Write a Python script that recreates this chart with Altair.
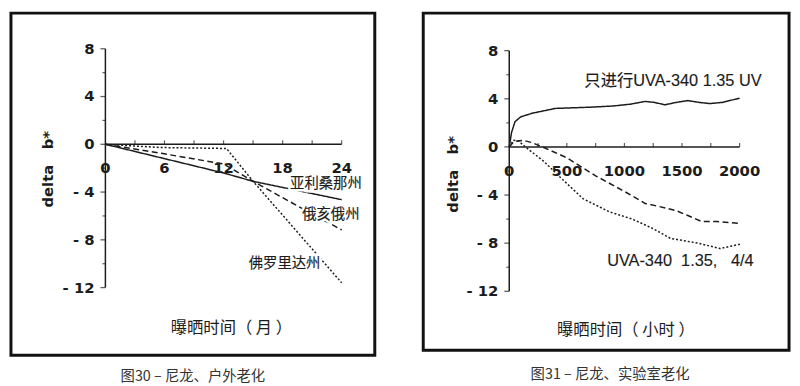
import altair as alt
import pandas as pd

# ---------------- data: left panel (outdoor, months) ----------------
az_month = [0, 6, 12, 15, 24]
az_val = [0, -1.2, -2.4, -3.1, -4.64]
oh_month = [0, 6, 12, 15, 19.6, 24]
oh_val = [0, -0.8, -1.65, -3.1, -5.2, -7.17]
fl_month = [0, 5.6, 12.3, 15, 24]
fl_val = [0, -0.27, -0.35, -3.1, -11.6]

# ---------------- data: right panel (lab, hours) ----------------
uv_hour = [0, 20, 50, 100, 200, 300, 400, 550, 700, 900, 1050, 1180, 1260,
           1350, 1450, 1550, 1650, 1740, 1850, 2000]
uv_val = [0, 1.2, 2.1, 2.5, 2.8, 3.0, 3.2, 3.25, 3.3, 3.4, 3.55, 3.78, 3.7,
          3.5, 3.7, 3.85, 3.7, 3.6, 3.7, 4.05]
c44_hour = [0, 40, 120, 200, 300, 500, 750, 1000, 1180, 1300, 1450, 1550,
            1670, 1800, 2000]
c44_val = [0, 0.45, 0.55, 0.35, -0.05, -0.9, -2.4, -3.7, -4.7, -4.95, -5.3,
           -5.7, -6.2, -6.2, -6.35]
dot_hour = [0, 35, 80, 140, 300, 440, 640, 870, 1070, 1250, 1400, 1640,
            1830, 2020]
dot_val = [0, 0.55, 0.5, 0.0, -1.2, -2.5, -4.3, -5.4, -6.0, -6.8, -7.6,
           -8.0, -8.45, -8.05]

# ---------------- axes / text ----------------
y_major = [8, 4, 0, -4, -8, -12]
y_major_lab = ["8", "4", "0", "-\u00a04", "-\u00a08", "-\u00a012"]
y_minor = [6, 2, -2, -6, -10]
x1_labels = [0, 6, 12, 18, 24]
x1_ticks = [3, 6, 9, 12, 15, 18, 21, 24]
x2_labels = [0, 500, 1000, 1500, 2000]
x2_ticks = [250, 500, 750, 1000, 1250, 1500, 1750, 2000]

INK = "#1c1c1c"
LAT = "DejaVu Sans"
CJK = "Noto Sans CJK SC"
MIX = "Liberation Sans, Noto Sans CJK SC"


def panel(series, xdom, ydom, xmax, xlabels, xticks, ytitle_pos, xtitle,
          xtitle_pos, notes, caption, w, h, cap_dx, cap_off):
    xs = alt.Scale(domain=xdom, nice=False, zero=False)
    ys = alt.Scale(domain=ydom, nice=False, zero=False)

    rows = []
    for name, xv, yv in series:
        for a, b in zip(xv, yv):
            rows.append({"x": a, "y": b, "s": name})
    df = pd.DataFrame(rows)
    names = [s[0] for s in series]
    lines = alt.Chart(df).mark_line(color=INK, strokeWidth=1.5).encode(
        x=alt.X("x:Q", scale=xs, axis=None),
        y=alt.Y("y:Q", scale=ys, axis=None),
        strokeDash=alt.StrokeDash("s:N", legend=None, scale=alt.Scale(
            domain=names, range=[[1, 0], [6, 3.5], [2, 2]])),
        detail="s:N",
    )

    yaxis = alt.Chart(pd.DataFrame({"x": [0], "y": [min(y_major)], "y2": [max(y_major)]})
                      ).mark_rule(color=INK, strokeWidth=1.5).encode(
        x=alt.X("x:Q", scale=xs), y=alt.Y("y:Q", scale=ys), y2="y2:Q")
    xaxis = alt.Chart(pd.DataFrame({"x": [0], "x2": [xmax], "y": [0]})
                      ).mark_rule(color=INK, strokeWidth=1.5).encode(
        x=alt.X("x:Q", scale=xs), x2="x2:Q", y=alt.Y("y:Q", scale=ys))

    ymaj = alt.Chart(pd.DataFrame({"x": [0] * len(y_major), "y": y_major, "t": y_major_lab}))
    yt_major = ymaj.mark_tick(orient="horizontal", size=5, thickness=1.3,
                              xOffset=-2.5, color=INK).encode(
        x=alt.X("x:Q", scale=xs), y=alt.Y("y:Q", scale=ys))
    yt_lab = ymaj.mark_text(align="right", baseline="middle", dx=-11, font=LAT,
                            fontWeight="bold", fontSize=15, fill=INK).encode(
        x=alt.X("x:Q", scale=xs), y=alt.Y("y:Q", scale=ys), text="t:N")
    yt_minor = alt.Chart(pd.DataFrame({"x": [0] * len(y_minor), "y": y_minor})).mark_tick(
        orient="horizontal", size=3, thickness=1.2, xOffset=-1.5, color=INK).encode(
        x=alt.X("x:Q", scale=xs), y=alt.Y("y:Q", scale=ys))

    xt = alt.Chart(pd.DataFrame({"x": xticks, "y": [0] * len(xticks)})).mark_tick(
        orient="vertical", size=4, thickness=1.2, yOffset=-2, color=INK).encode(
        x=alt.X("x:Q", scale=xs), y=alt.Y("y:Q", scale=ys))
    xl = alt.Chart(pd.DataFrame({"x": xlabels, "y": [0] * len(xlabels),
                                 "t": [str(v) for v in xlabels]})).mark_text(
        align="center", baseline="middle", dy=24, font=LAT, fontWeight="bold",
        fontSize=15, fill=INK).encode(
        x=alt.X("x:Q", scale=xs), y=alt.Y("y:Q", scale=ys), text="t:N")

    ytitle = alt.Chart(pd.DataFrame({"x": [ytitle_pos[0]], "y": [ytitle_pos[1]],
                                     "t": ["delta\u00a0\u00a0\u00a0b*"]})).mark_text(
        angle=270, align="center", baseline="middle", font=LAT, fontWeight="bold",
        fontSize=15, fill=INK).encode(
        x=alt.X("x:Q", scale=xs), y=alt.Y("y:Q", scale=ys), text="t:N")
    xtitle_m = alt.Chart(pd.DataFrame({"x": [xtitle_pos[0]], "y": [xtitle_pos[1]],
                                       "t": [xtitle]})).mark_text(
        align="center", baseline="middle", font=CJK, fontSize=16.5, fill=INK).encode(
        x=alt.X("x:Q", scale=xs), y=alt.Y("y:Q", scale=ys), text="t:N")

    ndf = pd.DataFrame(notes, columns=["x", "y", "t", "al", "fs"])
    note_layers = []
    for al in ndf["al"].unique():
        for fs in ndf["fs"].unique():
            sub = ndf[(ndf["al"] == al) & (ndf["fs"] == fs)]
            if len(sub) == 0:
                continue
            base = alt.Chart(sub).encode(
                x=alt.X("x:Q", scale=xs), y=alt.Y("y:Q", scale=ys), text="t:N")
            # white halo that interrupts the lines under the label
            note_layers.append(base.mark_text(
                align=al, baseline="middle", font=MIX, fontSize=float(fs),
                fill="#ffffff", stroke="#ffffff", strokeWidth=5, opacity=1))
            note_layers.append(base.mark_text(
                align=al, baseline="middle", font=MIX, fontSize=float(fs),
                fill=INK, stroke=INK, strokeWidth=0.15, opacity=1))

    return alt.layer(lines, yaxis, xaxis, yt_major, yt_minor, yt_lab, xt, xl,
                     ytitle, xtitle_m, *note_layers).properties(
        width=w, height=h,
        title=alt.TitleParams(caption, orient="bottom", anchor="middle",
                              font=CJK, fontSize=14.5, fontWeight="normal",
                              color="#333333", offset=cap_off, dx=cap_dx))


left = panel(
    [("亚利桑那州", az_month, az_val), ("俄亥俄州", oh_month, oh_val),
     ("佛罗里达州", fl_month, fl_val)],
    xdom=[-9.59, 27.36], ydom=[-17.66, 10.985], xmax=24,
    xlabels=x1_labels, xticks=x1_ticks, ytitle_pos=(-5.87, -2.09),
    xtitle="曝晒时间（ 月 ）", xtitle_pos=(12.8, -15.42),
    notes=[(22.4, -3.3, "亚利桑那州", "center", 14.5),
           (22.9, -5.9, "俄亥俄州", "center", 14.5),
           (18.2, -10.04, "佛罗里达州", "center", 14.5)],
    caption="图30 – 尼龙、户外老化", w=368, h=346, cap_dx=0, cap_off=15)

right = panel(
    [("只进行UVA-340 1.35 UV", uv_hour, uv_val), ("4/4", c44_hour, c44_val),
     ("UVA-340 1.35", dot_hour, dot_val)],
    xdom=[-746.8, 2429.2], ydom=[-16.90, 11.12], xmax=2000,
    xlabels=x2_labels, xticks=x2_ticks, ytitle_pos=(-489, -2.28),
    xtitle="曝晒时间（ 小时 ）", xtitle_pos=(1013, -15.26),
    notes=[(652, 5.45, "只进行UVA-340 1.35 UV", "left", 16.5),
           (850, -9.5, "UVA-340\u00a0\u00a01.35,\u00a0\u00a0\u00a04/4", "left", 16.5)],
    caption="图31 – 尼龙、实验室老化", w=370, h=341, cap_dx=4, cap_off=18)

chart = alt.hconcat(left, right, spacing=45).properties(
    padding=1, background="white").configure_view(
    stroke="#111111", strokeWidth=3)

chart.save("out.html", embed_options={"renderer": "svg", "actions": False})
